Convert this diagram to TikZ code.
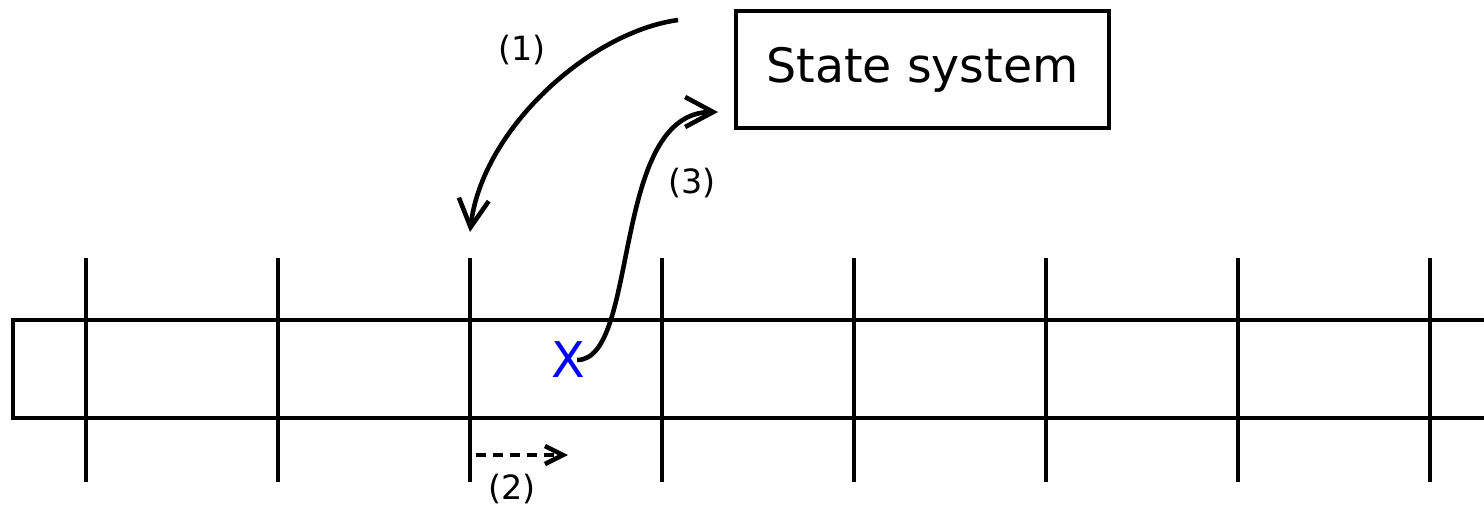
\documentclass[tikz,border=0pt]{standalone}
\usepackage{fontspec}
\setmainfont{DejaVu Sans}
\usetikzlibrary{arrows.meta}
\definecolor{markblue}{HTML}{0000FF}

\begin{document}
\begin{tikzpicture}[line width=1.3pt,
  barb/.style={-{Straight Barb[length=2.8mm,width=3mm]}},
  smallbarb/.style={-{Straight Barb[length=1.8mm,width=1.8mm]}},
  lbl/.style={font=\fontsize{9.5}{11}\selectfont}]
  \useasboundingbox (0,0) rectangle (14.84,5.04);
  \clip (0,0) rectangle (14.84,5.04);
  % the strip and its cell borders
  \draw (14.95,1.84) -- (0.13,1.84) -- (0.13,0.86) -- (14.95,0.86);
  \foreach \i in {0,...,7}
    \draw (0.86+1.92*\i,0.22) -- (0.86+1.92*\i,2.46);
  \node[draw,minimum width=3.73cm,minimum height=1.17cm,inner sep=0pt,
    font=\fontsize{13.5}{16}\selectfont] (state) at (9.225,4.345) {State system};
  \node[inner sep=0pt,text=markblue,font=\fontsize{14}{16}\selectfont]
    (X) at (5.68,1.44) {X};
  \coordinate (from) at (6.78,4.84);
  \coordinate (cell) at (4.70,2.72);
  \coordinate (into) at (7.18,3.92);
  \coordinate (m0) at (4.76,0.49);
  \coordinate (m1) at (5.68,0.49);
  % (1) read the state
  \draw[barb] (from) .. controls (5.9,4.72) and (4.82,3.75) .. (cell);
  \node[lbl] (l1) at (5.22,4.54) {(1)};
  % (2) move right
  \draw[smallbarb,dash pattern=on 0.1cm off 0.07cm] (m0) -- (m1);
  \node[lbl] (l2) at (5.12,0.15) {(2)};
  % (3) write the state back
  \draw[barb] ([xshift=-1mm]X.east) .. controls (6.4,1.44) and (6.1,3.92) .. (into);
  \node[lbl] (l3) at (6.92,3.21) {(3)};
\end{tikzpicture}
\end{document}
